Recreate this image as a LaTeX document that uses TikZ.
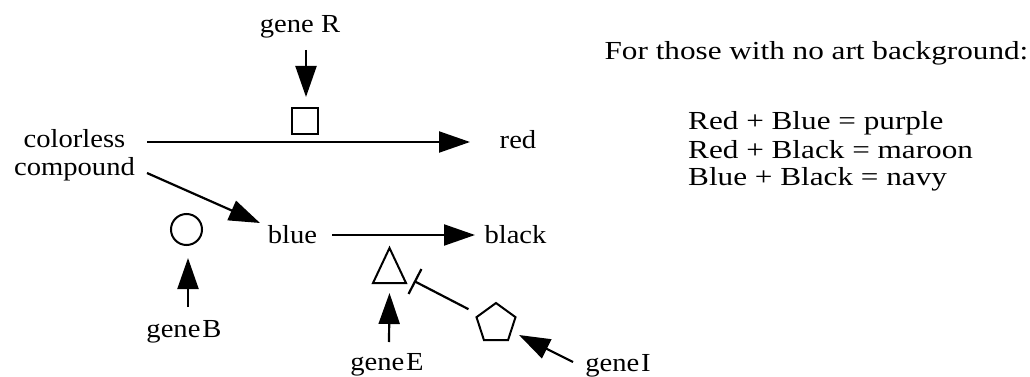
\documentclass[tikz,border=0pt]{standalone}
\usepackage{fontspec}
\setmainfont{Liberation Serif}[FakeStretch=1.1]
\newfontfamily\widefont{Liberation Serif}[FakeStretch=1.2]
\usetikzlibrary{arrows.meta,shapes.geometric}
\begin{document}
\begin{tikzpicture}[x=1pt,y=-1pt,
  lbl/.style={inner sep=0pt, font=\fontsize{26}{28}\selectfont, anchor=base},
  wide/.style={inner sep=0pt, font=\widefont\fontsize{26}{28}\selectfont},
  arr/.style={line width=2.2pt, -{Triangle[length=31pt,width=21pt]}},
  inh/.style={line width=2.2pt, -{Bar[width=28pt,line width=2.2pt]}},
  shp/.style={draw, line width=2pt, inner sep=0pt}]
\useasboundingbox (0,0) rectangle (1030,377);
% labels
\node[lbl] (geneR) at (300,33) {gene R};
\node[lbl] (colorless) at (74.5,147) {colorless};
\node[lbl] (compound) at (74.5,175) {compound};
\node[lbl] (red) at (518,148) {red};
\node[lbl] (blue) at (292.5,243) {blue};
\node[lbl] (black) at (515.5,243) {black};
\node[lbl] (geneB) at (184,337) {gene\hspace{2pt}B};
\node[lbl] (geneE) at (387,370) {gene\hspace{2pt}E};
\node[lbl] (geneI) at (618,371) {gene\hspace{2pt}I};
% shapes
\node[shp, minimum size=26pt] (sq) at (305,121.5) {};
\node[shp, circle, minimum size=31pt] (circ) at (186.5,229.5) {};
\coordinate (tri) at (389.5,268);
\draw[line width=2pt, line join=miter] (tri) ++(-16.5,15) -- ++(16.5,-35) -- ++(16.5,35) -- cycle;
\node[shp, regular polygon, regular polygon sides=5, minimum size=41pt] (pent) at (496,323.5) {};
% connectors
\draw[arr] ([xshift=6pt,yshift=-17pt]geneR.base) -- ([xshift=1pt,yshift=10.5pt]sq.north);
\draw[arr] ([xshift=72.5pt,yshift=5pt]colorless.base) -- ([xshift=-48pt,yshift=6pt]red.base);
\draw[arr] ([xshift=72.5pt,yshift=2pt]compound.base) -- ([xshift=-32.5pt,yshift=20pt]blue.base);
\draw[arr] ([xshift=39.5pt,yshift=8pt]blue.base) -- ([xshift=-40.5pt,yshift=8pt]black.base);
\draw[arr] ([xshift=4pt,yshift=30pt]geneB.base) -- ([xshift=1.5pt,yshift=-12pt]circ.south);
\draw[arr] ([xshift=2pt,yshift=28pt]geneE.base) -- ([yshift=-25pt]tri);
\draw[arr] ([xshift=-45pt,yshift=9pt]geneI.base) -- ([xshift=23pt,yshift=-11.5pt]pent.center);
\draw[inh] ([xshift=-27.5pt,yshift=14.3pt]pent.center) -- ([xshift=24.5pt,yshift=-13pt]tri);
% right text
\node[wide, anchor=base] (title) at (816.5,60) {For those with no art background:};
\node[wide, anchor=base west] (l1) at (688,130) {Red + Blue = purple};
\node[wide, anchor=base west] (l2) at (688,158) {Red + Black = maroon};
\node[wide, anchor=base west] (l3) at (688,185) {Blue + Black = navy};
\end{tikzpicture}
\end{document}
